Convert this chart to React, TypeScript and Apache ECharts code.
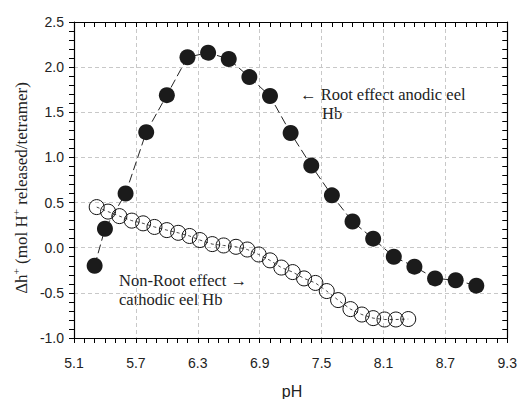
import React, { useEffect, useRef } from "react";
import * as echarts from "echarts";

// Root effect anodic eel Hb (filled circles)
const anodicPH = [5.3, 5.4, 5.6, 5.8, 6.0, 6.2, 6.4, 6.6, 6.8, 7.0, 7.2, 7.4, 7.6, 7.8, 8.0, 8.2, 8.4, 8.6, 8.8, 9.0];
const anodicH = [-0.2, 0.21, 0.6, 1.28, 1.69, 2.11, 2.16, 2.09, 1.89, 1.68, 1.27, 0.91, 0.58, 0.29, 0.1, -0.1, -0.21, -0.34, -0.36, -0.42];

// Non-Root effect cathodic eel Hb (open circles)
const cathodicPH = [5.32, 5.43, 5.54, 5.66, 5.77, 5.88, 6.0, 6.11, 6.22, 6.32, 6.44, 6.55, 6.67, 6.78, 6.89, 7.0, 7.11, 7.22, 7.33, 7.44, 7.55, 7.66, 7.78, 7.89, 8.0, 8.11, 8.22, 8.34];
const cathodicH = [0.45, 0.4, 0.35, 0.3, 0.27, 0.23, 0.195, 0.165, 0.13, 0.085, 0.04, 0.025, 0.01, -0.02, -0.075, -0.14, -0.22, -0.27, -0.34, -0.39, -0.48, -0.58, -0.68, -0.74, -0.78, -0.795, -0.795, -0.79];

const X_MIN = 5.1;
const X_MAX = 9.3;
const X_LABEL_STEP = 0.6;
const Y_MIN = -1.0;
const Y_MAX = 2.5;
const Y_LABEL_STEP = 0.5;
const MINOR_STEP = 0.1;

const xTitle = "pH";
const anodicLabel = ["\u2190 Root effect anodic eel", "Hb"];
const cathodicLabel = ["Non-Root effect \u2192", "cathodic eel Hb"];

const SANS = "'Liberation Sans', Arial, sans-serif";
const SERIF = "'Liberation Serif', 'Times New Roman', serif";

export default function App() {
  const ref = useRef<HTMLDivElement>(null);

  useEffect(() => {
    if (!ref.current) return;
    const chart = echarts.init(ref.current, undefined, { renderer: "svg" });

    const isStep = (v: number, base: number, step: number) => {
      const k = (v - base) / step;
      return Math.abs(k - Math.round(k)) < 1e-6;
    };

    const mkLine = () => ({ show: true, onZero: false, lineStyle: { color: "#000", width: 1.2 } });
    const gridLine = () => ({ show: true, lineStyle: { color: "#c8c8c8", width: 1, type: [4, 3] as any } });
    const mkTick = (inside: boolean) => ({ show: true, inside, length: 5, lineStyle: { color: "#000", width: 1 } });

    chart.setOption({
      animation: false,
      backgroundColor: "#fff",
      grid: { left: 74, right: 9, top: 22, bottom: 61, containLabel: false },
      xAxis: [
        {
          type: "value",
          position: "bottom",
          min: X_MIN,
          max: X_MAX,
          interval: MINOR_STEP,
          axisLine: mkLine(),
          axisTick: mkTick(false),
          axisLabel: {
            margin: 18,
            fontFamily: SANS,
            fontSize: 14,
            color: "#222",
            formatter: (v: number) => (isStep(v, X_MIN, X_LABEL_STEP) ? v.toFixed(1) : ""),
          },
          splitLine: { show: false },
        },
        {
          type: "value",
          position: "top",
          min: X_MIN,
          max: X_MAX,
          interval: MINOR_STEP,
          axisLine: mkLine(),
          axisTick: mkTick(true),
          axisLabel: { show: false },
          splitLine: { show: false },
        },
        {
          type: "value",
          position: "bottom",
          min: 0,
          max: X_MAX - X_MIN,
          interval: X_LABEL_STEP,
          axisLine: { show: false },
          axisTick: { show: false },
          axisLabel: { show: false },
          splitLine: gridLine(),
        },
      ],
      yAxis: [
        {
          type: "value",
          position: "left",
          min: Y_MIN,
          max: Y_MAX,
          interval: MINOR_STEP,
          axisLine: mkLine(),
          axisTick: mkTick(false),
          axisLabel: {
            margin: 10,
            fontFamily: SANS,
            fontSize: 14,
            color: "#222",
            formatter: (v: number) => (isStep(v, Y_MIN, Y_LABEL_STEP) ? v.toFixed(1) : ""),
          },
          splitLine: { show: false },
        },
        {
          type: "value",
          position: "right",
          min: Y_MIN,
          max: Y_MAX,
          interval: MINOR_STEP,
          axisLine: mkLine(),
          axisTick: mkTick(true),
          axisLabel: { show: false },
          splitLine: { show: false },
        },
        {
          type: "value",
          position: "left",
          min: Y_MIN,
          max: Y_MAX,
          interval: Y_LABEL_STEP,
          axisLine: { show: false },
          axisTick: { show: false },
          axisLabel: { show: false },
          splitLine: gridLine(),
        },
      ],
      series: [
        {
          type: "line",
          name: "cathodic",
          xAxisIndex: 0,
          yAxisIndex: 0,
          data: cathodicPH.map((x, i) => [x, cathodicH[i]]),
          symbol: "circle",
          symbolSize: 15,
          showAllSymbol: true,
          lineStyle: { color: "#444", width: 1, type: [3, 3] as any },
          itemStyle: { color: "rgba(255,255,255,0)", borderColor: "#111", borderWidth: 1 },
          z: 2,
        },
        {
          type: "line",
          name: "anodic",
          xAxisIndex: 0,
          yAxisIndex: 0,
          data: anodicPH.map((x, i) => [x, anodicH[i]]),
          symbol: "circle",
          symbolSize: 16,
          showAllSymbol: true,
          lineStyle: { color: "#222", width: 1, type: [9, 4] as any },
          itemStyle: { color: "#1b1b1b", borderWidth: 0 },
          z: 3,
        },
      ],
      graphic: [
        {
          type: "text",
          x: 20,
          y: 188,
          rotation: Math.PI / 2,
          style: {
            text: "{a|\u0394h}{s|+}{a| (mol H}{s|+}{a| released/tetramer)}",
            textAlign: "center",
            textVerticalAlign: "middle",
            fill: "#222",
            rich: {
              a: { fontFamily: SERIF, fontSize: 17, lineHeight: 20, fill: "#222", verticalAlign: "bottom" },
              s: { fontFamily: SERIF, fontSize: 11, lineHeight: 20, fill: "#222", verticalAlign: "top", padding: [0, 0, 8, 0] },
            },
          },
        },
        {
          type: "text",
          x: 292,
          y: 391,
          style: { text: xTitle, font: `16px ${SANS}`, fill: "#222", textAlign: "center", textVerticalAlign: "middle" },
        },
        {
          type: "text",
          x: 300,
          y: 94,
          style: { text: anodicLabel[0], font: `16.5px ${SERIF}`, fill: "#222", textAlign: "left", textVerticalAlign: "middle" },
        },
        {
          type: "text",
          x: 322,
          y: 113,
          style: { text: anodicLabel[1], font: `16.5px ${SERIF}`, fill: "#222", textAlign: "left", textVerticalAlign: "middle" },
        },
        {
          type: "text",
          x: 119,
          y: 280,
          style: { text: cathodicLabel[0], font: `16.5px ${SERIF}`, fill: "#222", textAlign: "left", textVerticalAlign: "middle" },
        },
        {
          type: "text",
          x: 119,
          y: 299,
          style: { text: cathodicLabel[1], font: `16.5px ${SERIF}`, fill: "#222", textAlign: "left", textVerticalAlign: "middle" },
        },
      ],
    });

    return () => chart.dispose();
  }, []);

  return <div ref={ref} style={{ width: 520, height: 399, position: "absolute", left: 0, top: 0 }} />;
}
